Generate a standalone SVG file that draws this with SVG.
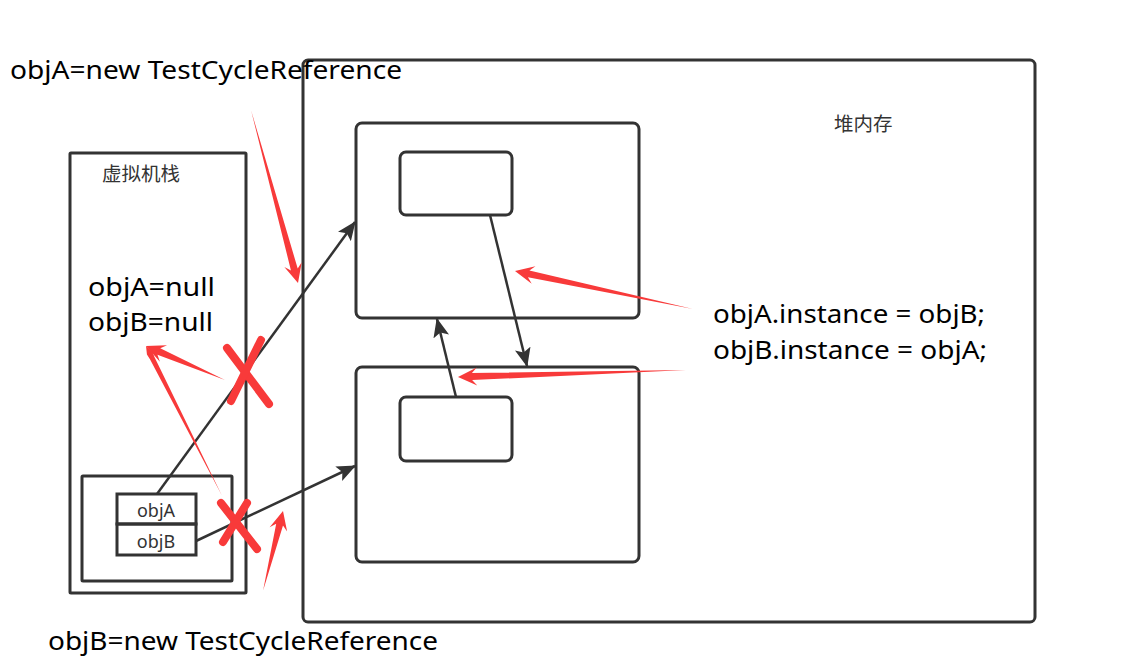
<svg xmlns="http://www.w3.org/2000/svg" width="1142" height="666" viewBox="0 0 1142 666">
<style>
.box{fill:none;stroke:#333;stroke-width:3}
.conn{fill:none;stroke:#333;stroke-width:2.5}
.red{fill:#f83a3a}
.x{stroke:#f83a3a;stroke-width:8;stroke-linecap:round;fill:none}
.big{font-family:"Noto Sans","Liberation Sans",sans-serif;font-size:26px;fill:#000}
.cn{font-family:"Noto Sans CJK SC","Noto Sans",sans-serif;font-size:19.5px;fill:#333}
.sm{font-family:"Noto Sans","Liberation Sans",sans-serif;font-size:18px;fill:#333;text-anchor:middle}
</style>
<defs>
<marker id="ah" markerUnits="userSpaceOnUse" markerWidth="19" markerHeight="16" refX="18" refY="8" orient="auto">
<path d="M0,0 L19,8 L0,16 L4,8 Z" fill="#333"/>
</marker>
</defs>
<rect width="1142" height="666" fill="#fff"/>

<g id="heap">
<rect class="box" x="303" y="60" width="732" height="562" rx="5"/>
<text class="cn" x="834" y="131">堆内存</text>
</g>
<g id="stack">
<rect class="box" x="70" y="153" width="176" height="440" rx="1"/>
<text class="cn" x="102" y="181">虚拟机栈</text>
<rect class="box" x="82" y="476" width="150" height="105" rx="1"/>
</g>
<g id="objA">
<rect class="box" x="117" y="494" width="79" height="30"/>
<text class="sm" x="156" y="517">objA</text>
</g>
<g id="objB">
<rect class="box" x="117" y="524" width="79" height="31"/>
<text class="sm" x="156" y="548">objB</text>
</g>
<g id="heapObjA">
<rect class="box" x="356" y="123" width="283" height="195" rx="6"/>
<rect class="box" x="400" y="152" width="112" height="63" rx="6"/>
</g>
<g id="heapObjB">
<rect class="box" x="356" y="367" width="283" height="195" rx="6"/>
<rect class="box" x="400" y="397" width="112" height="64" rx="6"/>
</g>

<g id="connectors">
<line class="conn" x1="157" y1="494" x2="355" y2="222" marker-end="url(#ah)"/>
<line class="conn" x1="196" y1="541" x2="355" y2="466" marker-end="url(#ah)"/>
<line class="conn" x1="490" y1="215" x2="527" y2="366" marker-end="url(#ah)"/>
<line class="conn" x1="456" y1="397" x2="437" y2="319" marker-end="url(#ah)"/>
</g>

<g id="annotations">
<path class="red" transform="translate(298,283) rotate(74.8)" d="M-179,0 L-14,-3.5 L-19,-9 L0,0 L-19,9 L-14,3.5 Z"/>
<path class="red" transform="translate(515,271) rotate(192.05)" d="M-182,0 L-14,-3.5 L-19,-9 L0,0 L-19,9 L-14,3.5 Z"/>
<path class="red" transform="translate(458,377) rotate(178.24)" d="M-228,0 L-14,-3.5 L-19,-9 L0,0 L-19,9 L-14,3.5 Z"/>
<path class="red" transform="translate(283,511) rotate(-75.96)" d="M-82,0 L-14,-3.5 L-19,-9 L0,0 L-19,9 L-14,3.5 Z"/>
<path class="red" transform="translate(146,346) rotate(203.3)" d="M-86,0 L-14,-3.5 L-19,-9 L0,0 L-19,9 L-14,3.5 Z"/>
<path class="red" transform="translate(146,346) rotate(243.1)" d="M-168,0 L-14,-2.5 L-8,-3 L0,0 L-8,3 L-14,2.5 Z"/>
<line class="x" x1="227" y1="348" x2="269" y2="404"/>
<line class="x" x1="261" y1="340" x2="231" y2="401"/>
<line class="x" x1="221" y1="503" x2="257" y2="549"/>
<line class="x" x1="247" y1="503" x2="223" y2="542"/>
</g>

<g id="labels">
<text class="big" x="10" y="79" textLength="392" lengthAdjust="spacingAndGlyphs">objA=new TestCycleReference</text>
<text class="big" x="48" y="650" textLength="390" lengthAdjust="spacingAndGlyphs">objB=new TestCycleReference</text>
<text class="big" x="88" y="296" textLength="127" lengthAdjust="spacingAndGlyphs">objA=null</text>
<text class="big" x="88" y="331" textLength="125" lengthAdjust="spacingAndGlyphs">objB=null</text>
<text class="big" x="713" y="323" textLength="272" lengthAdjust="spacingAndGlyphs">objA.instance = objB;</text>
<text class="big" x="713" y="359" textLength="274" lengthAdjust="spacingAndGlyphs">objB.instance = objA;</text>
</g>
</svg>
